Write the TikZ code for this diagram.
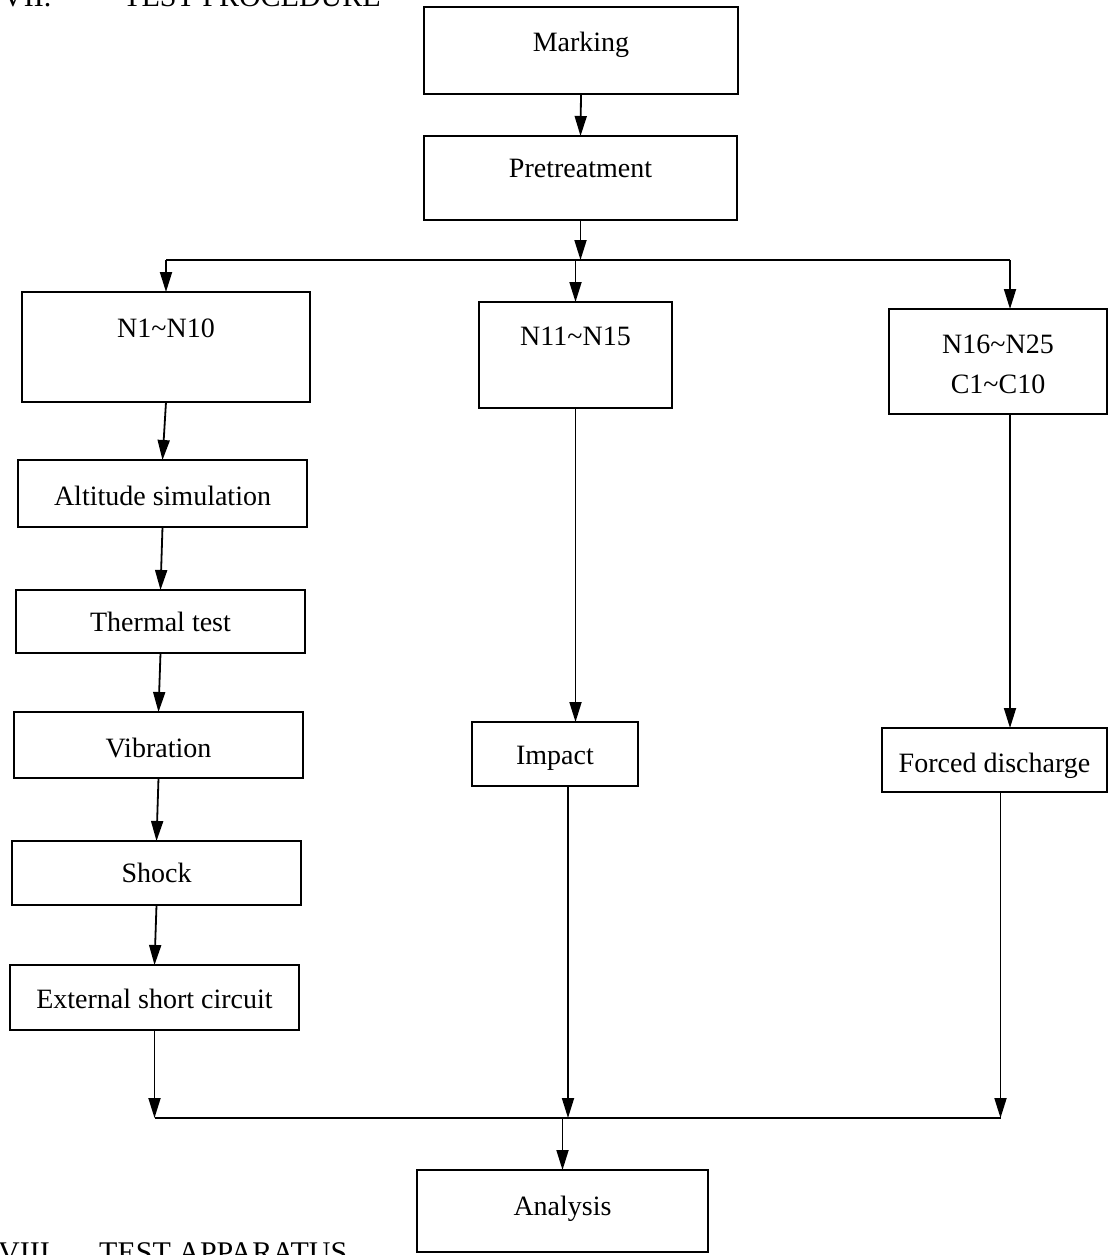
\documentclass[tikz,border=0pt]{standalone}
\usepackage{fontspec}
\setmainfont{Liberation Serif}
\usetikzlibrary{arrows.meta,calc}
\newcommand\mybox[7]{%
  \node[boxst, minimum width={#4-#2}, minimum height={#5-#3}] (#1) at ({(#2+#4)/2},{(#3+#5)/2}) {};
  \node[txt] (#1t) at ({(#2+#4)/2},#7) {#6};}
\begin{document}
\begin{tikzpicture}[x=1pt,y=-1pt,
  boxst/.style={draw, line width=1.8pt, inner sep=0pt, outer sep=0pt},
  txt/.style={anchor=base, inner sep=0pt, font=\fontsize{28}{34}\selectfont},
  head/.style={anchor=base west, inner sep=0pt, font=\fontsize{30}{36}\selectfont},
  ln/.style={line width=1.8pt},
  arr/.style={line width=1.8pt, -{Triangle[length=20pt,width=12pt]}}]
\useasboundingbox (0,0) rectangle (1119,1255);
\clip (0,0) rectangle (1119,1255);
% headings (cut off by the page edge)
\node[head] (h1a) at (2,7) {VII.};
\node[head] (h1b) at (123,7) {TEST PROCEDURE};
\node[head] (h2a) at (-2,1262) {VIII.};
\node[head] (h2b) at (99,1262) {TEST APPARATUS};
% boxes
\mybox{mark}{424}{7}{738}{94}{Marking}{52}
\mybox{pre}{424}{136}{737}{220}{Pretreatment}{177}
\mybox{n1}{22}{292}{310}{402}{N1\textasciitilde N10}{337}
\mybox{n11}{479}{302}{672}{408}{N11\textasciitilde N15}{345}
\mybox{n16}{889}{309}{1107}{414}{N16\textasciitilde N25}{353}
\node[txt] (n16u) at (998,393) {C1\textasciitilde C10};
\mybox{alt}{18}{460}{307}{527}{Altitude simulation}{505}
\mybox{therm}{16}{590}{305}{653}{Thermal test}{631}
\mybox{vib}{14}{712}{303}{778}{Vibration}{757}
\mybox{shock}{12}{841}{301}{905}{Shock}{882}
\mybox{ext}{10}{965}{299}{1030}{External short circuit}{1008}
\mybox{imp}{472}{722}{638}{786}{Impact}{764}
\mybox{forced}{882}{728}{1107}{792}{Forced discharge}{772}
\mybox{an}{417}{1170}{708}{1252}{Analysis}{1215}
% connectors
\draw[arr] (mark.south) -- (pre.north);
\path (pre.south) ++(0,40) coordinate (split);
\coordinate (r1) at ([xshift=12pt]n16.north);
\draw[ln] (split -| n1.north) -- (split -| r1);
\draw[arr] (pre.south) -- (split);
\draw[arr] (split -| n1.north) -- (n1.north);
\draw[arr] (split -| n11.north) -- (n11.north);
\draw[arr] (split -| r1) -- (r1);
\draw[arr] (n1.south) -- (alt.north);
\draw[arr] (alt.south) -- (therm.north);
\draw[arr] (therm.south) -- (vib.north);
\draw[arr] (vib.south) -- (shock.north);
\draw[arr] (shock.south) -- (ext.north);
\draw[arr] (n11.south) -- (n11.south |- imp.north);
\coordinate (r2) at ([xshift=12pt]n16.south);
\draw[arr] (r2) -- (r2 |- forced.north);
\coordinate (mL) at (0,1118);
\coordinate (c2) at ([xshift=13pt]imp.south);
\coordinate (c3) at ([xshift=6pt]forced.south);
\draw[ln] (ext.south |- mL) -- (c3 |- mL);
\draw[arr] (ext.south) -- (ext.south |- mL);
\draw[arr] (c2) -- (c2 |- mL);
\draw[arr] (c3) -- (c3 |- mL);
\draw[arr] (an.north |- mL) -- (an.north);
\end{tikzpicture}
\end{document}
